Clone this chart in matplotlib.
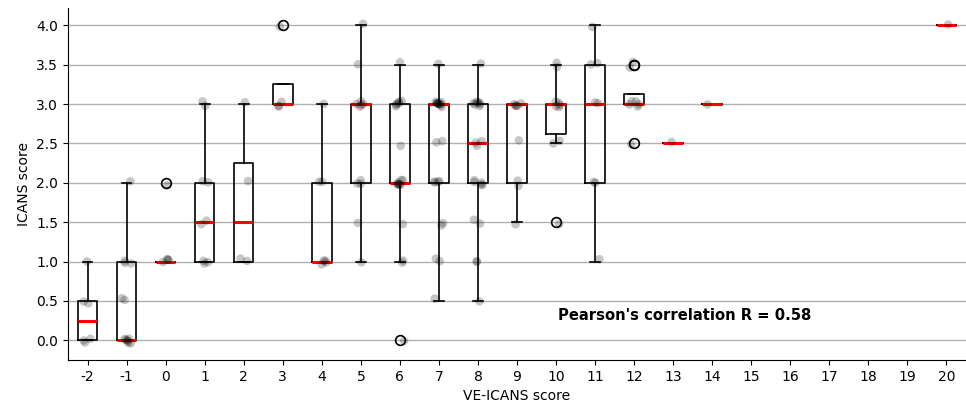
import numpy as np
import matplotlib
matplotlib.use("Agg")
import matplotlib.pyplot as plt

# VE-ICANS score categories and ICANS scores per category
categories = [-2, -1, 0, 1, 2, 3, 4, 5, 6, 7, 8, 9, 10, 11, 12, 13, 14, 20]
icans = {
    -2: [0, 0, 0, 0.5, 0.5, 1],
    -1: [0, 0, 0, 0, 0, 0, 0, 0.5, 0.5, 1, 1, 1, 2],
    0: [1, 1, 1, 1, 2],
    1: [1, 1, 1, 1.5, 1.5, 2, 2, 3, 3],
    2: [1, 1, 2, 3],
    3: [3, 3, 3, 4],
    4: [1, 1, 1, 1, 2, 2, 3],
    5: [1, 1.5, 2, 2, 2, 3, 3, 3, 3, 3, 3.5, 4],
    6: [0, 1, 1, 1.5, 2, 2, 2, 2, 2, 2, 2, 2, 2.5, 3, 3, 3, 3, 3, 3, 3.5],
    7: [0.5, 1, 1, 1.5, 1.5, 2, 2, 2, 2, 2.5, 2.5,
        3, 3, 3, 3, 3, 3, 3, 3, 3, 3, 3, 3.5],
    8: [0.5, 1, 1, 1.5, 1.5, 2, 2, 2, 2, 2, 2.5, 2.5, 2.5,
        3, 3, 3, 3, 3, 3, 3, 3.5],
    9: [1.5, 2, 2, 2.5, 3, 3, 3, 3, 3],
    10: [1.5, 2.5, 2.5, 3, 3, 3, 3, 3, 3.5, 3.5],
    11: [1, 2, 2, 3, 3, 3.5, 3.5, 4],
    12: [2.5, 3, 3, 3, 3, 3, 3.5, 3.5],
    13: [2.5],
    14: [3],
    20: [4],
}
xticks = list(range(-2, 21))
annotation = "Pearson's correlation R = 0.58"

fig = plt.figure(figsize=(9.66, 4.07), dpi=100)
ax = fig.add_axes([68 / 966, 47 / 407, 898 / 966, 352 / 407])

data = [icans[c] for c in categories]
ax.boxplot(data, positions=categories, widths=0.5,
           boxprops=dict(color="black", linewidth=1.2),
           whiskerprops=dict(color="black", linewidth=1.2),
           capprops=dict(color="black", linewidth=1.2),
           medianprops=dict(color="red", linewidth=2.2),
           flierprops=dict(marker="o", markerfacecolor="none",
                           markeredgecolor="black", markersize=7,
                           markeredgewidth=1.2))

rng = np.random.default_rng(3)
for c in categories:
    vals = np.asarray(icans[c], dtype=float)
    jx = rng.uniform(-0.12, 0.12, len(vals))
    jy = rng.uniform(-0.04, 0.04, len(vals))
    ax.scatter(c + jx, vals + jy, s=38, color="black", alpha=0.22,
               edgecolors="none", zorder=3)

ax.set_xlim(-2.5, 20.5)
ax.set_ylim(-0.25, 4.22)
ax.set_xticks(xticks)
ax.set_xticklabels([str(t) for t in xticks])
ax.set_yticks(np.arange(0, 4.01, 0.5))
ax.set_yticklabels([f"{v:.1f}" for v in np.arange(0, 4.01, 0.5)])
ax.yaxis.grid(True, color="#b0b0b0", linewidth=1)
ax.set_axisbelow(True)
ax.spines["top"].set_visible(False)
ax.spines["right"].set_visible(False)
ax.set_xlabel("VE-ICANS score", fontsize=10)
ax.set_ylabel("ICANS score", fontsize=10)
ax.text(10.04, 0.32, annotation, fontsize=10.6, fontweight="bold",
        ha="left", va="center")

fig.savefig("out.png", dpi=100)
